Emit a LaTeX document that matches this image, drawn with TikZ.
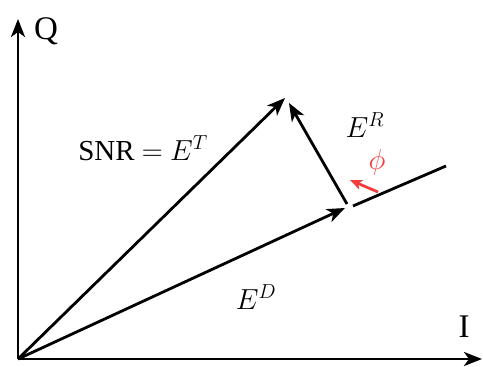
\documentclass[tikz,border=0pt]{standalone}
\usepackage{fix-cm}
\usepackage{fontspec}
\setmainfont{Liberation Serif}
\usetikzlibrary{arrows.meta}
\definecolor{phired}{RGB}{245,60,60}
\begin{document}
\begin{tikzpicture}[x=1pt,y=-1pt,
  vec/.style={line width=2.8pt,-{Stealth[length=18pt,width=14pt,inset=5pt]}},
  lbl/.style={inner sep=0pt,font=\fontsize{29}{34}\selectfont},
  axl/.style={inner sep=0pt,font=\fontsize{33}{38}\selectfont}]
\useasboundingbox (0,0) rectangle (483,367);
\coordinate (O) at (18,359);
\coordinate (Qt) at (18,19);
\coordinate (It) at (482,359);
\coordinate (T) at (285,98);
\coordinate (D) at (345,208);
\coordinate (Rs) at (347,204);
\coordinate (Rt) at (289,103);
\coordinate (L1) at (353,206);
\coordinate (L2) at (446,166);
\coordinate (P1) at (378,192);
\coordinate (P2) at (350,180);
\draw[vec] (O) -- (Qt);
\draw[vec] (O) -- (It);
\draw[vec] (O) -- (T);
\draw[vec] (O) -- (D);
\draw[vec] (Rs) -- (Rt);
\draw[line width=2.8pt] (L1) -- (L2);
\draw[phired,line width=2.8pt,-{Stealth[length=12pt,width=10pt,inset=3pt]}] (P1) -- (P2);
\node[axl] (q) at (46,31) {Q};
\node[axl] (i) at (464,327) {I};
\node[lbl] (snr) at (143,148) {SNR $=$ $E^T$};
\node[lbl] (er) at (365,125) {$E^R$};
\node[lbl] (ed) at (256,297) {$E^D$};
\node[lbl,text=phired] (phi) at (377,162) {$\phi$};
\end{tikzpicture}
\end{document}
